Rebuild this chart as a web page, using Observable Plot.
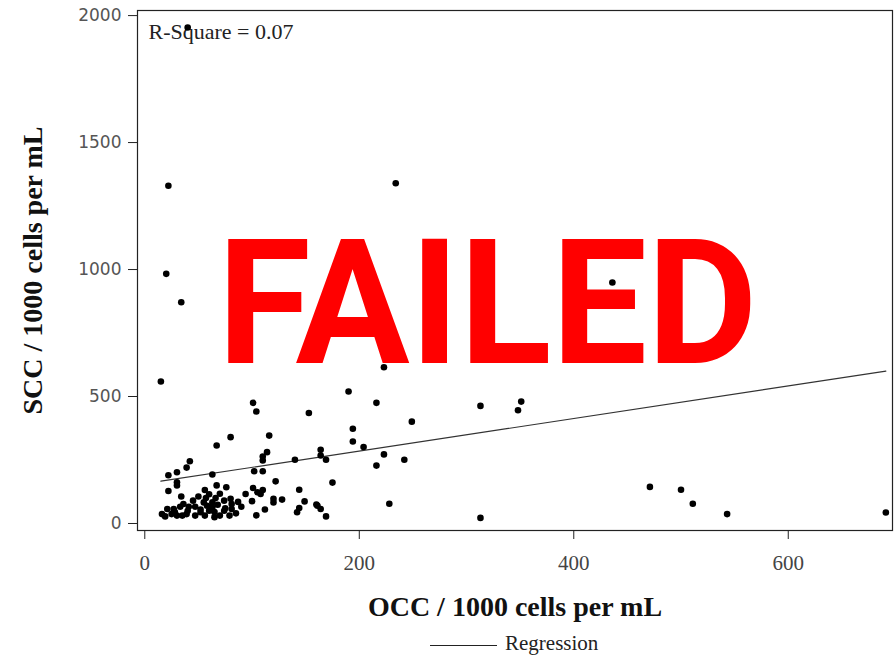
<!DOCTYPE html>
<html>
<head>
<meta charset="utf-8">
<script src="https://cdn.jsdelivr.net/npm/d3@7"></script>
<script src="https://cdn.jsdelivr.net/npm/@observablehq/plot@0.6"></script>
<style>
  html, body { margin: 0; padding: 0; background: #fff; }
  #wrap { width: 896px; height: 656px; position: relative; overflow: hidden; }
  #legend { position: relative; width: 896px; height: 31px; }
  #legend .swatch { position: absolute; left: 430px; top: 20px; width: 67px; height: 0; border-top: 1.2px solid #222; }
  #legend .lbl { position: absolute; left: 505px; top: 8px; font-family: "Liberation Serif", "Times New Roman", serif; font-size: 21px; color: #222; line-height: 21px; }
</style>
</head>
<body>
<div id="wrap"></div>
<script>
// OCC / 1000 cells per mL (x) and SCC / 1000 cells per mL (y)
const occ = [40,22,234,20,34,436,15,223,190,216,101,104,153,313,348,351,249,194,116,80,
  67,194,204,164,114,223,164,110,169,140,242,110,42,216,39,102,110,30,63,22,
  122,175,30,30,67,76,471,500,22,56,101,110,144,105,108,94,70,34,50,57,
  120,128,80,149,120,55,63,228,511,81,36,68,161,90,47,41,33,63,144,164,
  27,21,81,60,74,52,142,691,16,25,39,543,19,30,35,47,56,70,79,104,
  169,313,160,45,58,65,75,85,52,40,28,66,60,74,87,100,112,65];
const scc = [1953,1330,1340,983,871,949,559,615,520,475,475,441,435,463,446,480,401,373,346,340,
  307,323,301,290,281,272,268,264,251,251,251,248,245,228,220,206,206,202,193,190,
  166,161,162,150,150,143,144,133,128,132,140,132,133,123,116,116,117,106,106,100,
  97,94,97,87,83,83,83,78,78,77,77,74,70,66,66,66,66,63,61,57,
  57,57,57,50,50,44,44,43,37,37,37,37,28,31,31,31,31,31,31,32,
  28,22,75,90,70,45,60,40,55,50,45,100,115,90,85,88,55,25];

const xTicks = [0, 200, 400, 600];
const yTicks = [0, 500, 1000, 1500, 2000];
const xLabel = "OCC / 1000 cells per mL";
const yLabel = "SCC / 1000 cells per mL";
const rSquareText = "R-Square = 0.07";
const stampText = "FAILED";
const legendText = "Regression";

// fitted regression line as seen in the picture
const regIntercept = 157;
const regSlope = 0.641;

const points = occ.map((x, i) => ({x, y: scc[i]}));
const xMin = d3.min(occ), xMax = d3.max(occ);
const regLine = [xMin, xMax].map(x => ({x, y: regIntercept + regSlope * x}));

const serif = '"Liberation Serif", "Times New Roman", serif';

const chart = Plot.plot({
  width: 896,
  height: 625,
  marginLeft: 137,
  marginRight: 4,
  marginTop: 10,
  marginBottom: 95,
  style: {background: "#fff", overflow: "visible"},
  x: {domain: [-6.8, 697.2]},
  y: {domain: [-27.6, 2020]},
  marks: [
    Plot.frame({stroke: "#222", strokeWidth: 1.2}),
    Plot.axisX(xTicks, {tickSize: 9, tickPadding: 16, stroke: "#222", fill: "#444", fontSize: 21, fontFamily: serif, label: null, tickFormat: d => String(d)}),
    Plot.axisY(yTicks, {tickSize: 9, tickPadding: 7, stroke: "#222", fill: "#555", fontSize: 17, fontFamily: '"DejaVu Sans", sans-serif', label: null, tickFormat: d => String(d)}),
    Plot.text([rSquareText], {frameAnchor: "top-left", text: d => d, lineAnchor: "bottom", textAnchor: "start", dx: 11, dy: 28, fontSize: 22, fontFamily: serif, fill: "#222"}),
    Plot.line(regLine, {x: "x", y: "y", stroke: "#333", strokeWidth: 1.2}),
    Plot.dot(points, {x: "x", y: "y", r: 3.3, fill: "#000", stroke: "none"}),
    Plot.text([xLabel], {frameAnchor: "bottom", text: d => d, lineAnchor: "bottom", textAnchor: "middle", dy: 85, fontSize: 28, fontWeight: "bold", fontFamily: serif, fill: "#111"}),
    Plot.text([yLabel], {frameAnchor: "left", text: d => d, lineAnchor: "bottom", textAnchor: "middle", rotate: -90, dx: -96, fontSize: 28, fontWeight: "bold", fontFamily: serif, fill: "#111"}),
    Plot.text([stampText], {frameAnchor: "top-left", text: d => d, lineAnchor: "bottom", textAnchor: "start", dx: 80, dy: 352, fontSize: 174, fontWeight: "bold", fontFamily: "Roboto, sans-serif", fill: "#ff0000", className: "stamp"})
  ]
});

// compress the stamp text to the width seen in the picture
d3.select(chart).selectAll(".stamp text").attr("textLength", 540).attr("lengthAdjust", "spacingAndGlyphs");

const wrap = document.getElementById("wrap");
wrap.appendChild(chart);
const legend = document.createElement("div");
legend.id = "legend";
legend.innerHTML = '<div class="swatch"></div><div class="lbl"></div>';
legend.querySelector(".lbl").textContent = legendText;
wrap.appendChild(legend);
</script>
</body>
</html>
